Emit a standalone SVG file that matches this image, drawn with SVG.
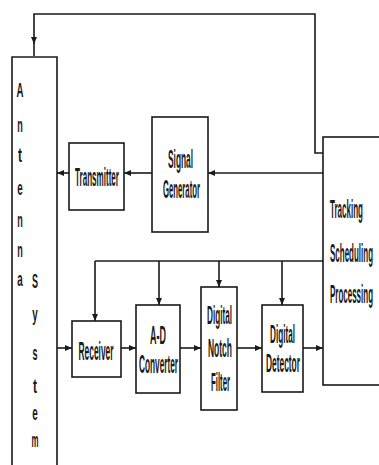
<svg xmlns="http://www.w3.org/2000/svg" width="379" height="465" viewBox="0 0 379 465">
<defs>
<marker id="ah" markerUnits="userSpaceOnUse" markerWidth="7" markerHeight="6" refX="7" refY="3" orient="auto">
<path d="M0,0 L7,3 L0,6 z" fill="#1a1a1a"/>
</marker>
<style>
.box{fill:#fff;stroke:#1a1a1a;stroke-width:1.6}
.ln{fill:none;stroke:#1a1a1a;stroke-width:1.6}
.ar{fill:none;stroke:#1a1a1a;stroke-width:1.6;marker-end:url(#ah)}
text{font-family:"Liberation Sans",Arial,sans-serif;font-size:25px;fill:#1a1a1a;font-weight:bold}
.c{text-anchor:middle}
.l{font-size:21px}
</style>
</defs>
<rect width="379" height="465" fill="#fff"/>
<g id="connectors">
<path class="ar" d="M323,153 L315,153 L315,14 L34,14 L34,44"/>
<path class="ln" d="M34,43 L34,56"/>
<path class="ar" d="M323,173 L208,173"/>
<path class="ar" d="M152,173 L124,173"/>
<path class="ar" d="M69,173 L57,173"/>
<path class="ln" d="M323,261 L95,261"/>
<path class="ar" d="M95,261 L95,321"/>
<path class="ar" d="M159,261 L159,305"/>
<path class="ar" d="M219,261 L219,287"/>
<path class="ar" d="M282,261 L282,305"/>
<path class="ar" d="M57,348 L72,348"/>
<path class="ar" d="M121,348 L136,348"/>
<path class="ar" d="M180,348 L201,348"/>
<path class="ar" d="M237,348 L262,348"/>
<path class="ar" d="M303,348 L323,348"/>
</g>
<g id="antenna">
<path class="box" d="M12,470 L12,57 L57,57 L57,470"/>
<text class="c l" transform="translate(20,97) scale(0.4,1)" textLength="17.5" lengthAdjust="spacingAndGlyphs">A</text>
<text class="c l" transform="translate(20,132) scale(0.4,1)" textLength="13.75" lengthAdjust="spacingAndGlyphs">n</text>
<text class="c l" transform="translate(20,162) scale(0.4,1)" textLength="10" lengthAdjust="spacingAndGlyphs">t</text>
<text class="c l" transform="translate(20,195) scale(0.4,1)" textLength="13.75" lengthAdjust="spacingAndGlyphs">e</text>
<text class="c l" transform="translate(20,227) scale(0.4,1)" textLength="13.75" lengthAdjust="spacingAndGlyphs">n</text>
<text class="c l" transform="translate(20,257) scale(0.4,1)" textLength="13.75" lengthAdjust="spacingAndGlyphs">n</text>
<text class="c l" transform="translate(20,286) scale(0.4,1)" textLength="13.75" lengthAdjust="spacingAndGlyphs">a</text>
<text class="c l" transform="translate(35,288) scale(0.4,1)" textLength="15" lengthAdjust="spacingAndGlyphs">S</text>
<text class="c l" transform="translate(35,321) scale(0.4,1)" textLength="13.75" lengthAdjust="spacingAndGlyphs">y</text>
<text class="c l" transform="translate(35,360) scale(0.4,1)" textLength="12.5" lengthAdjust="spacingAndGlyphs">s</text>
<text class="c l" transform="translate(35,393) scale(0.4,1)" textLength="10" lengthAdjust="spacingAndGlyphs">t</text>
<text class="c l" transform="translate(35,420) scale(0.4,1)" textLength="13.75" lengthAdjust="spacingAndGlyphs">e</text>
<text class="c l" transform="translate(35,447) scale(0.4,1)" textLength="17.5" lengthAdjust="spacingAndGlyphs">m</text>
</g>
<g id="transmitter">
<rect class="box" x="69" y="143" width="55" height="67"/>
<text class="c" transform="translate(97,186) scale(0.34,1)" textLength="129.4" lengthAdjust="spacingAndGlyphs">Transmitter</text>
</g>
<g id="signal-generator">
<rect class="box" x="152" y="117" width="56" height="115"/>
<text class="c" transform="translate(180.5,168) scale(0.34,1)" textLength="73.5" lengthAdjust="spacingAndGlyphs">Signal</text>
<text class="c" transform="translate(181.5,198) scale(0.34,1)" textLength="108.8" lengthAdjust="spacingAndGlyphs">Generator</text>
</g>
<g id="tracking">
<rect class="box" x="323" y="137" width="80" height="248"/>
<text transform="translate(330,218) scale(0.34,1)" textLength="97" lengthAdjust="spacingAndGlyphs">Tracking</text>
<text transform="translate(330,262) scale(0.34,1)" textLength="126.5" lengthAdjust="spacingAndGlyphs">Scheduling</text>
<text transform="translate(330,303) scale(0.34,1)" textLength="126.5" lengthAdjust="spacingAndGlyphs">Processing</text>
</g>
<g id="receiver">
<rect class="box" x="72" y="321" width="49" height="56"/>
<text class="c" transform="translate(96,360) scale(0.34,1)" textLength="103" lengthAdjust="spacingAndGlyphs">Receiver</text>
</g>
<g id="ad-converter">
<rect class="box" x="136" y="305" width="44" height="88"/>
<text class="c" transform="translate(158,344) scale(0.34,1)" textLength="47" lengthAdjust="spacingAndGlyphs">A-D</text>
<text class="c" transform="translate(158.5,373) scale(0.34,1)" textLength="114.7" lengthAdjust="spacingAndGlyphs">Converter</text>
</g>
<g id="notch-filter">
<rect class="box" x="201" y="287" width="36" height="123"/>
<text class="c" transform="translate(219.5,324) scale(0.34,1)" textLength="73.5" lengthAdjust="spacingAndGlyphs">Digital</text>
<text class="c" transform="translate(220,357) scale(0.34,1)" textLength="70.6" lengthAdjust="spacingAndGlyphs">Notch</text>
<text class="c" transform="translate(220.5,391) scale(0.34,1)" textLength="55.9" lengthAdjust="spacingAndGlyphs">Filter</text>
</g>
<g id="detector">
<rect class="box" x="262" y="305" width="41" height="87"/>
<text class="c" transform="translate(282.5,343) scale(0.34,1)" textLength="73.5" lengthAdjust="spacingAndGlyphs">Digital</text>
<text class="c" transform="translate(283,372) scale(0.34,1)" textLength="100" lengthAdjust="spacingAndGlyphs">Detector</text>
</g>
</svg>
